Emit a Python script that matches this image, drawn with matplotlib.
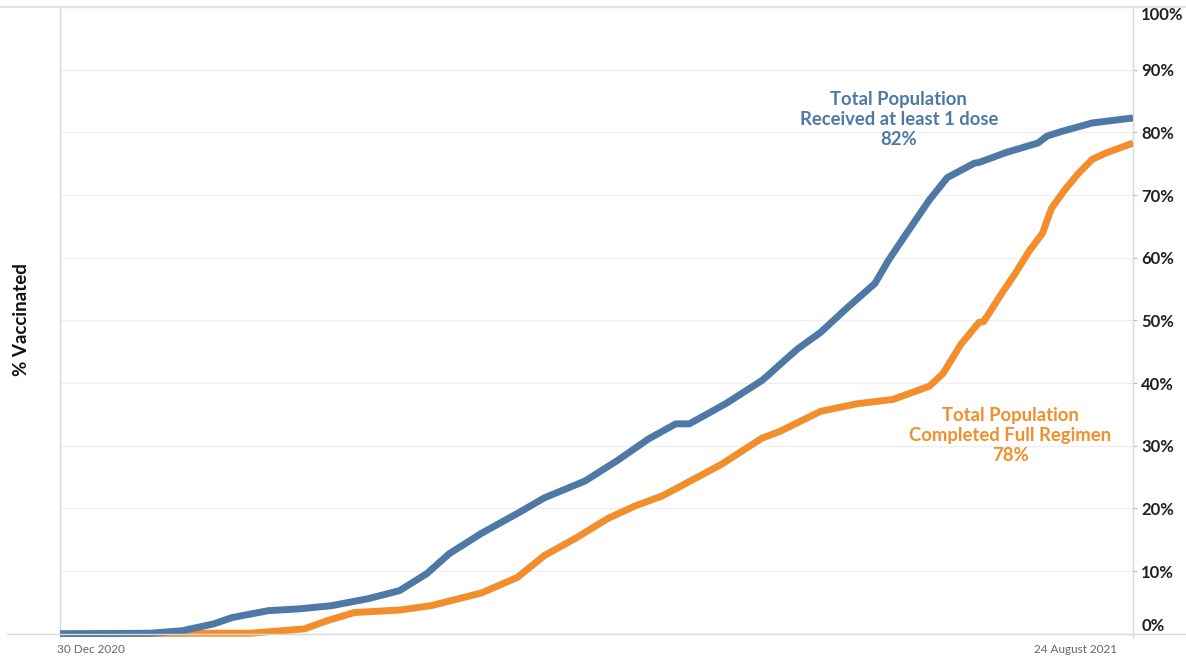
import numpy as np
import pandas as pd
import matplotlib.pyplot as plt
import matplotlib.transforms as mtransforms
from matplotlib.lines import Line2D

plt.rcParams['font.family'] = ['Lato', 'DejaVu Sans']

start = pd.Timestamp('2020-12-30')
end = pd.Timestamp('2021-08-24')

# days since 30 Dec 2020, % of total population
dose1_days = [0, 20, 27, 34, 38, 46, 53, 60, 68, 75, 81, 86, 93, 101, 107, 116, 123,
              130, 136, 139, 147, 155, 156, 160, 163, 168, 174, 180, 183, 187, 192,
              196, 202, 203, 209, 216, 218, 221, 228, 237]
dose1_pct = [0, 0.1, 0.5, 1.6, 2.6, 3.7, 4.0, 4.5, 5.6, 6.9, 9.6, 12.8, 16.0, 19.2, 21.7,
             24.4, 27.6, 31.1, 33.5, 33.5, 36.7, 40.4, 41.0, 43.6, 45.5, 48.1, 52.1, 55.9,
             59.6, 63.9, 69.2, 72.8, 75.1, 75.2, 76.8, 78.3, 79.4, 80.1, 81.5, 82.3]

full_days = [0, 29, 42, 49, 54, 59, 65, 75, 82, 88, 93, 101, 107, 114, 121, 127, 133,
             138, 139, 146, 155, 159, 168, 176, 184, 192, 195, 199, 203, 204, 208, 211,
             214, 217, 219, 222, 225, 228, 231, 237]
full_pct = [0, 0.1, 0.1, 0.5, 0.8, 2.1, 3.4, 3.8, 4.5, 5.6, 6.5, 9.0, 12.5, 15.3, 18.4,
            20.4, 22.0, 23.9, 24.3, 27.0, 31.2, 32.3, 35.5, 36.7, 37.4, 39.5, 41.5, 46.2,
            49.7, 49.8, 54.3, 57.5, 61.0, 63.9, 67.9, 70.9, 73.5, 75.7, 76.7, 78.3]

y_ticks = list(range(0, 101, 10))
y_labels = [f'{v}%' for v in y_ticks]
x_labels = ['30 Dec 2020', '24 August 2021']

blue = '#4e79a7'
orange = '#f28e2b'

dose1_x = start + pd.to_timedelta(dose1_days, unit='D')
full_x = start + pd.to_timedelta(full_days, unit='D')

fig = plt.figure(figsize=(11.86, 6.57), dpi=100)
# 0% sits at y=634 px, 100% at y=7 px; axes reach a bit lower so the line at 0 shows
ax = fig.add_axes([60 / 1186, 20 / 657, 1073 / 1186, 630 / 657])

ax.plot(full_x, full_pct, color=orange, lw=5, solid_capstyle='butt', zorder=3)
ax.plot(dose1_x, dose1_pct, color=blue, lw=5, solid_capstyle='butt', zorder=4)

ax.set_xlim(start, end)
ax.set_ylim(-0.5, 100)

# y axis on the right
ax.yaxis.tick_right()
ax.set_yticks(y_ticks)
ax.set_yticklabels(y_labels, fontsize=12, fontweight='bold', color='#222222')
ax.tick_params(axis='y', direction='out', length=3, color='#bbbbbb', pad=3)
ylabs = ax.get_yticklabels()
ylabs[0].set_va('bottom')
ylabs[-1].set_va('top')
ax.grid(axis='y', color='#efefef', lw=1)
ax.set_axisbelow(True)

ax.set_xticks([start, end])
ax.set_xticklabels(x_labels, fontsize=8.5, color='#666666')
ax.tick_params(axis='x', length=0, pad=5)
xlabs = ax.get_xticklabels()
xlabs[0].set_ha('left')
xlabs[1].set_ha('right')
xlabs[0].set_transform(xlabs[0].get_transform() +
                       mtransforms.ScaledTranslation(-3 / 100, 0, fig.dpi_scale_trans))
xlabs[1].set_transform(xlabs[1].get_transform() +
                       mtransforms.ScaledTranslation(-16 / 100, 0, fig.dpi_scale_trans))

for s in ['top', 'bottom']:
    ax.spines[s].set_visible(False)
for s in ['left', 'right']:
    ax.spines[s].set_color('#d9d9d9')
    ax.spines[s].set_linewidth(1)

# full width frame lines
fig.add_artist(Line2D([0, 1], [1 - 7 / 657, 1 - 7 / 657], color='#e3e3e3', lw=1.5))
fig.add_artist(Line2D([7 / 1186, 1], [23 / 657, 23 / 657], color='#d9d9d9', lw=1, zorder=0.5))

fig.text(22 / 1186, 1 - 320 / 657, '% Vaccinated', rotation=90, ha='center', va='center',
         fontsize=13.5, fontweight='bold', color='#111111')

ax.text(start + pd.Timedelta(days=185.3), 82.1,
        'Total Population\nReceived at least 1 dose\n82%',
        ha='center', va='center', fontsize=13.3, fontweight='bold', color=blue, linespacing=1.2)
ax.text(start + pd.Timedelta(days=209.9), 31.6,
        'Total Population\nCompleted Full Regimen\n78%',
        ha='center', va='center', fontsize=13.3, fontweight='bold', color=orange, linespacing=1.2)

fig.savefig('out.png', dpi=100)
